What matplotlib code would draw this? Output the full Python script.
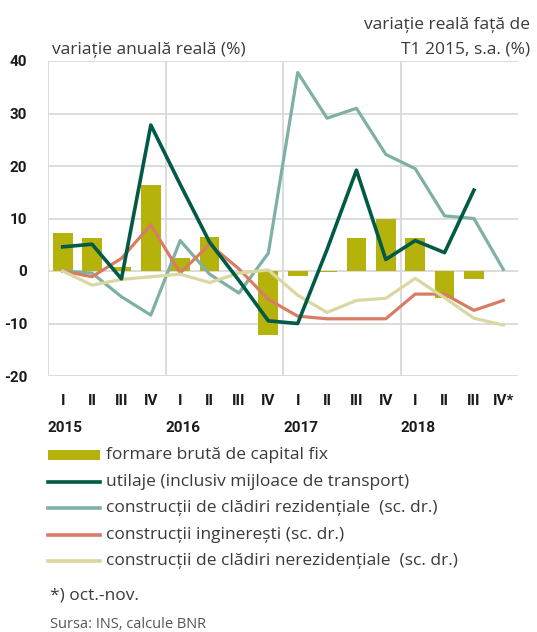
import matplotlib
matplotlib.use("Agg")
import matplotlib.pyplot as plt
import numpy as np
from matplotlib.patches import Rectangle
from matplotlib.lines import Line2D

quarters = ["I", "II", "III", "IV"] * 4
quarters[-1] = "IV*"
years = ["2015", "2016", "2017", "2018"]
yticks = [-20, -10, 0, 10, 20, 30, 40]
ytick_labels = ["-20", "-10", "0", "10", "20", "30", "40"]

fbcf = [7.3, 6.2, 0.8, 16.4, 2.4, 6.5, 0.0, -12.1, -1.0, -0.2, 6.2, 10.0, 6.2, -5.1, -1.5, np.nan]
utilaje = [4.6, 5.1, -1.5, 27.8, 16.5, 5.5, -1.8, -9.5, -10.0, 4.1, 19.2, 2.2, 5.8, 3.5, 15.4, np.nan]
rezid = [0.0, -0.4, -4.9, -8.4, 5.8, -0.6, -4.2, 3.4, 37.8, 29.1, 31.0, 22.2, 19.5, 10.5, 10.0, 0.3]
inginer = [0.0, -1.1, 2.4, 8.8, -0.4, 5.1, 0.4, -5.4, -8.6, -9.1, -9.1, -9.1, -4.4, -4.4, -7.5, -5.6]
nerezid = [0.0, -2.7, -1.6, -1.1, -0.6, -2.2, -0.4, 0.2, -4.6, -7.9, -5.6, -5.2, -1.4, -5.1, -9.0, -10.3]

labels = ["formare brută de capital fix",
          "utilaje (inclusiv mijloace de transport)",
          "construcții de clădiri rezidențiale  (sc. dr.)",
          "construcții inginerești (sc. dr.)",
          "construcții de clădiri nerezidențiale  (sc. dr.)"]

c_bar = "#b5b20c"
c_util = "#005a46"
c_rez = "#7fb0a6"
c_ing = "#d77d66"
c_ner = "#d9d8a0"
grid_c = "#d9d9d9"
txt_c = "#3a3a3a"

W, H = 537, 632
fig = plt.figure(figsize=(W / 100, H / 100), dpi=100)
ax = fig.add_axes([48 / W, 1 - 376 / H, (518 - 48) / W, (376 - 61) / H])

x = np.arange(len(quarters))
ax.bar(x, fbcf, width=0.67, color=c_bar, zorder=2)
ax.plot(x, rezid, color=c_rez, lw=2.3, zorder=3)
ax.plot(x, inginer, color=c_ing, lw=2.3, zorder=4)
ax.plot(x, nerezid, color=c_ner, lw=2.3, zorder=5)
ax.plot(x, utilaje, color=c_util, lw=2.6, zorder=6)

ax.set_xlim(-0.5, 15.5)
ax.set_ylim(-20, 40)
ax.yaxis.grid(True, color=grid_c, lw=1.3, zorder=0)
for b in [-0.5, 3.5, 7.5, 11.5]:
    ax.axvline(b, color=grid_c, lw=1.3, zorder=0)
for s in ax.spines.values():
    s.set_visible(False)
ax.tick_params(length=0)
tick_font = dict(family=["Roboto", "DejaVu Sans"], weight="bold", size=11)
ax.set_yticks(yticks)
ax.set_yticklabels(ytick_labels, fontdict=tick_font, color="#1a1a1a")
ax.tick_params(axis="y", pad=15)
ax.set_xticks(x)
ax.set_xticklabels(quarters, fontdict=tick_font, color="#1a1a1a")
ax.tick_params(axis="x", pad=13)

for i, yr in enumerate(years):
    ax.text(i * 4 - 0.5, -0.165, yr, transform=ax.get_xaxis_transform(),
            ha="left", va="center", fontdict=tick_font, color="#1a1a1a")

fs = 12.5
fam = ["Open Sans", "DejaVu Sans"]
fig.text(52 / W, 1 - 50 / H, "variație anuală reală (%)", ha="left", va="center",
         family=fam, size=fs, color=txt_c)
fig.text(530 / W, 1 - 25 / H, "variație reală față de", ha="right", va="center",
         family=fam, size=fs, color=txt_c)
fig.text(530 / W, 1 - 50 / H, "T1 2015, s.a. (%)", ha="right", va="center",
         family=fam, size=fs, color=txt_c)

# legend drawn manually
colors = [c_util, c_rez, c_ing, c_ner]
for i, lab in enumerate(labels):
    yc = 455 + 26.6 * i
    if i == 0:
        fig.add_artist(Rectangle((48 / W, 1 - (yc + 5) / H), 52 / W, 10 / H,
                                 transform=fig.transFigure, color=c_bar, lw=0))
    else:
        fig.add_artist(Line2D([48 / W, 100 / W], [1 - yc / H, 1 - yc / H],
                              transform=fig.transFigure, color=colors[i - 1], lw=2.6))
    fig.text(106 / W, 1 - yc / H, lab, ha="left", va="center", family=fam, size=fs, color=txt_c)

fig.text(50 / W, 1 - 595 / H, "*) oct.-nov.", ha="left", va="center", family=fam, size=fs, color=txt_c)
fig.text(50 / W, 1 - 625 / H, "Sursa: INS, calcule BNR", ha="left", va="center", family=fam,
         size=10.5, color="#555555")

fig.savefig("out.png", dpi=100)
